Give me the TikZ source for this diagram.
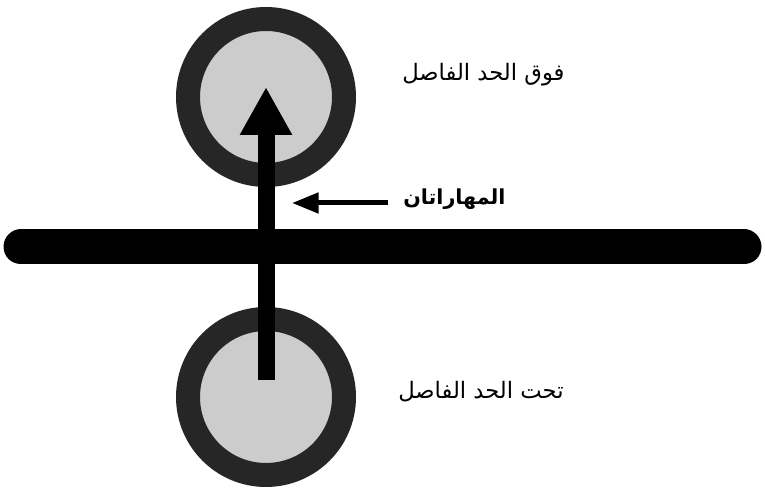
\documentclass[tikz,border=0pt]{standalone}
\usepackage{fontspec}
\newfontfamily\arabicfont[Script=Arabic]{DejaVu Sans}
\TeXXeTstate=1
\usepackage{tikz}
\usetikzlibrary{arrows.meta,positioning}

\tikzset{
  ring/.style={circle,draw=black!85,fill=black!20,line width=18pt,minimum size=117pt,inner sep=0pt},
  rotulo/.style={font=\arabicfont\fontsize{17}{20}\selectfont,inner sep=0pt,anchor=west},
}

\begin{document}
\begin{tikzpicture}[x=0.75pt,y=-0.75pt,line join=round]

\useasboundingbox[fill=white] (0,0) rectangle (765,491);

%---------------------------
% os dois circulos
%---------------------------
\node[ring] (upper) at (266,97) {};
\node[ring] (lower) at (266,397) {};

%---------------------------
% linha divisoria
%---------------------------
\coordinate (barleft) at (21,247);
\coordinate (barright) at (744,247);
\draw[line width=26.25pt,line cap=round] (barleft) -- (barright);

%---------------------------
% seta vertical
%---------------------------
\coordinate (tail) at ([yshift=12.75pt]lower.center);
\coordinate (tip) at ([yshift=7.5pt]upper.center);
\draw[line width=12.75pt,-{Triangle[width=36.75pt,length=36pt]}] (tail) -- (tip);

%---------------------------
% rotulos
%---------------------------
\node[rotulo] (acima) at (402,75) {\beginR فوق الحد الفاصل\endR};
\node[rotulo] (abaixo) at (398,392) {\beginR تحت الحد الفاصل\endR};
\node[rotulo,font=\arabicfont\bfseries\fontsize{15.5}{18}\selectfont] (texto) at (403,199) {\beginR المهاراتان\endR};

% seta curta
\coordinate (ponta) at (292,203);
\draw[line width=3.75pt,-{Triangle[width=15pt,length=20pt]}] ([xshift=-11pt]texto.west |- ponta) -- (ponta);

\end{tikzpicture}
\end{document}
